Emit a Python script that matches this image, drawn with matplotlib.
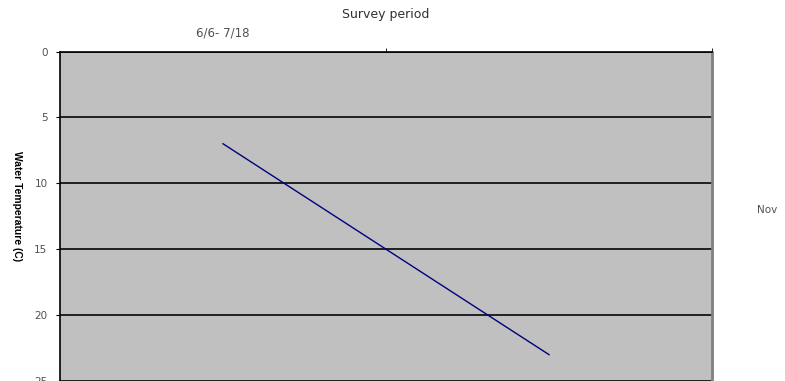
import matplotlib.pyplot as plt
import numpy as np

# chart data
categories = ["6/6- 7/18", ""]
temperature = [7.0, 23.0]
y_ticks = [0, 5, 10, 15, 20, 25]
legend_label = "Nov"

plt.rcParams["font.family"] = ["DejaVu Sans"]

fig = plt.figure(figsize=(7.85, 3.81), dpi=100)
ax = fig.add_axes([60 / 785, 0.0, 652 / 785, 329.5 / 381])
ax.set_facecolor("#c0c0c0")

x = np.arange(len(categories))
ax.plot(x, temperature, color="#000080", linewidth=1.0)

ax.set_xlim(-0.5, len(categories) - 0.5)
ax.set_ylim(25, 0)

ax.set_yticks(y_ticks)
ax.set_yticklabels([str(v) for v in y_ticks])
ax.yaxis.grid(True, color="#202020", linewidth=1.4)
ax.set_axisbelow(True)

ax.xaxis.tick_top()
ax.set_xticks(x)
ax.set_xticklabels(categories)
ax.set_xticks([0.5, 1.5], minor=True)
ax.tick_params(axis="x", which="major", length=0, pad=9, labelsize=8.5, labelcolor="#505050")
ax.tick_params(axis="x", which="minor", length=3, color="black", direction="out")
ax.tick_params(axis="y", length=3, pad=6, labelsize=7.5, labelcolor="#505050")

ax.xaxis.set_label_position("top")
ax.set_xlabel("Survey period", fontsize=9, labelpad=6, color="#303030")
ax.set_ylabel("Water Temperature (C)", fontsize=7.4, fontweight="bold",
              family="Liberation Sans", rotation=270, ha="center", va="center")
ax.yaxis.set_label_coords(-0.066, 0.531)

for side in ["top", "left"]:
    ax.spines[side].set_color("black")
    ax.spines[side].set_linewidth(1.2)
ax.spines["right"].set_color("#808080")
ax.spines["right"].set_linewidth(2)
ax.spines["bottom"].set_visible(False)

fig.text(757 / 785, 1 - 210 / 381, legend_label, fontsize=7.5, color="#505050",
         va="center", ha="left")

fig.savefig("out.png", dpi=100)
